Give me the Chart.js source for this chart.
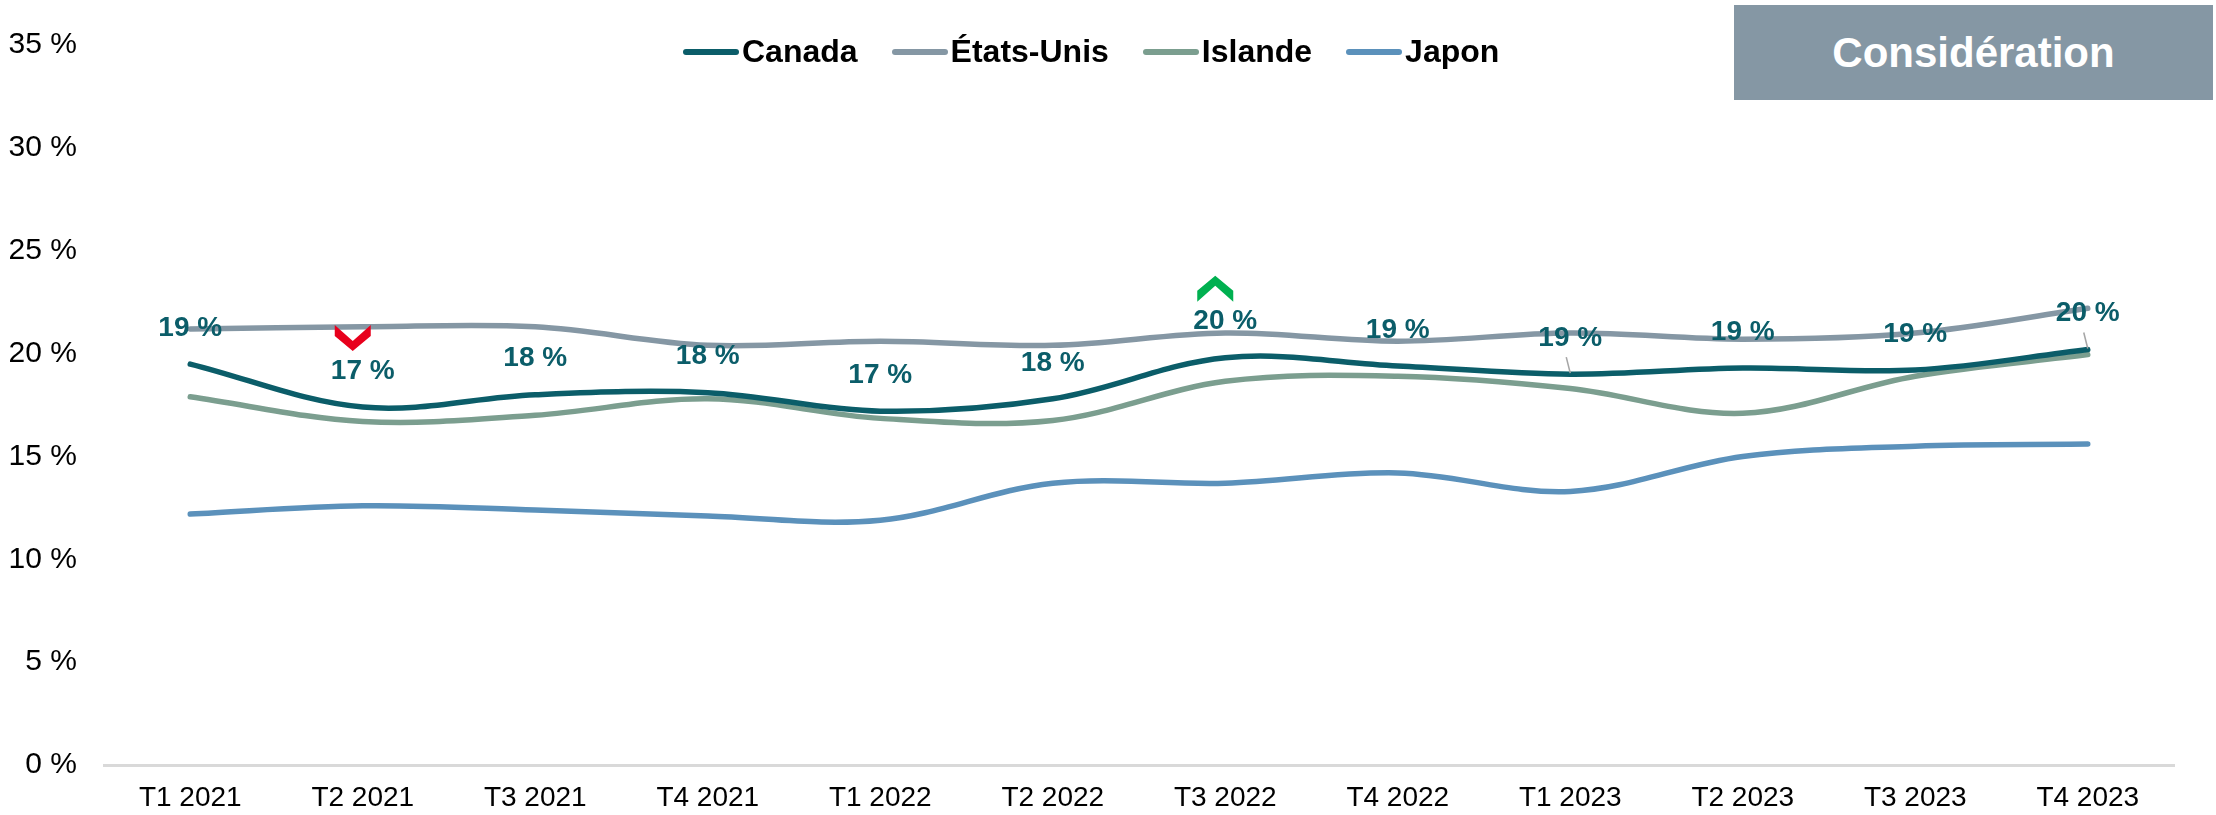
<!DOCTYPE html>
<html>
<head>
<meta charset="utf-8">
<script src="https://cdn.jsdelivr.net/npm/chart.js@4"></script>
<style>
  html, body { margin: 0; padding: 0; background: #fff; }
  #wrap { position: relative; width: 2216px; height: 815px; font-family: 'Liberation Sans', Arial, sans-serif; }
  #chart { position: absolute; left: 0; top: 0; }
  #legend { position: absolute; top: 33px; left: 683px; display: flex; align-items: center; font-weight: bold; font-size: 32px; color: #000; }
  #legend .item { display: flex; align-items: center; margin-right: 34px; }
  #legend .sw { width: 56px; height: 6px; border-radius: 3px; margin-right: 3px; }
  #badge { position: absolute; left: 1734px; top: 5px; width: 479px; height: 95px; background: #8597a4; color: #fff; font-weight: bold; font-size: 42px; display: flex; align-items: center; justify-content: center; }
</style>
</head>
<body>
<div id="wrap">
  <canvas id="chart"></canvas>
  <div id="legend"></div>
  <div id="badge">Considération</div>
</div>
<script>
const categories = ['T1 2021', 'T2 2021', 'T3 2021', 'T4 2021', 'T1 2022', 'T2 2022', 'T3 2022', 'T4 2022', 'T1 2023', 'T2 2023', 'T3 2023', 'T4 2023'];
const canada    = [19.49, 17.4, 18.0, 18.1, 17.2, 17.8, 19.8, 19.4, 19.0, 19.3, 19.2, 20.2];
const etatsUnis = [21.2, 21.3, 21.3, 20.4, 20.6, 20.4, 21.0, 20.6, 21.0, 20.7, 21.0, 22.2];
const islande   = [17.9, 16.7, 17.0, 17.8, 16.85, 16.75, 18.65, 18.9, 18.3, 17.1, 18.9, 19.95];
const japon     = [12.2, 12.6, 12.4, 12.1, 11.9, 13.7, 13.7, 14.2, 13.3, 15.0, 15.5, 15.6];
// significance flags on the Canada series
const signif = ['', 'down', '', '', '', '', 'up', '', '', '', '', ''];
const leaderIdx = [8, 11];

const seriesNames = ['Canada', 'États-Unis', 'Islande', 'Japon'];
const seriesColors = ['#0b5d69', '#8597a4', '#7b9e8f', '#5b91bb'];
const labelColor = '#0b5d69';
const FONT = "'Liberation Sans', Arial, sans-serif";

const canadaLabels = {
  id: 'canadaLabels',
  afterDatasetsDraw(chart) {
    const ctx = chart.ctx;
    const pts = chart.getDatasetMeta(0).data;
    ctx.save();
    ctx.strokeStyle = '#a6a6a6';
    ctx.lineWidth = 1.5;
    leaderIdx.forEach(i => {
      const p = pts[i];
      ctx.beginPath();
      ctx.moveTo(p.x - 4, p.y - 17);
      ctx.lineTo(p.x, p.y - 1);
      ctx.stroke();
    });
    ctx.font = 'bold 28px ' + FONT;
    ctx.textAlign = 'center';
    ctx.textBaseline = 'middle';
    pts.forEach((p, i) => {
      const ly = p.y - 36;
      ctx.fillStyle = labelColor;
      ctx.fillText(Math.round(canada[i]) + ' %', p.x, ly);
      const s = signif[i];
      if (!s) return;
      const cx = p.x - 10, cy = ly - 33;
      ctx.beginPath();
      if (s === 'down') {
        ctx.fillStyle = '#e8001c';
        ctx.moveTo(cx - 18, cy - 13);
        ctx.lineTo(cx, cy + 3);
        ctx.lineTo(cx + 18, cy - 13);
        ctx.lineTo(cx + 18, cy - 2);
        ctx.lineTo(cx, cy + 13);
        ctx.lineTo(cx - 18, cy - 2);
      } else {
        ctx.fillStyle = '#00b050';
        ctx.moveTo(cx - 18, cy + 13);
        ctx.lineTo(cx, cy - 3);
        ctx.lineTo(cx + 18, cy + 13);
        ctx.lineTo(cx + 18, cy + 2);
        ctx.lineTo(cx, cy - 13);
        ctx.lineTo(cx - 18, cy + 2);
      }
      ctx.closePath();
      ctx.fill();
    });
    ctx.restore();
  }
};

const allData = [canada, etatsUnis, islande, japon];

const legendEl = document.getElementById('legend');
seriesNames.forEach((n, i) => {
  const it = document.createElement('div');
  it.className = 'item';
  it.innerHTML = '<span class="sw" style="background:' + seriesColors[i] + '"></span><span>' + n + '</span>';
  legendEl.appendChild(it);
});

Chart.defaults.font.family = FONT;
Chart.defaults.color = '#000';

new Chart(document.getElementById('chart'), {
  type: 'line',
  data: {
    labels: categories,
    datasets: seriesNames.map((n, i) => ({
      label: n,
      data: allData[i],
      borderColor: seriesColors[i],
      backgroundColor: seriesColors[i],
      borderWidth: 5.5,
      borderCapStyle: 'round',
      pointRadius: 0,
      tension: 0.35,
      fill: false
    }))
  },
  options: {
    responsive: true,
    maintainAspectRatio: false,
    animation: false,
    layout: { padding: { top: 40, right: 42, left: 0, bottom: 0 } },
    plugins: { legend: { display: false }, tooltip: { enabled: false } },
    scales: {
      x: {
        offset: true,
        grid: { display: false, drawTicks: false },
        border: { display: true, color: '#d9d9d9', width: 3 },
        ticks: { padding: 16, font: { size: 28 }, maxRotation: 0, autoSkip: false },
        afterFit(s) { s.height = 50; }
      },
      y: {
        min: 0, max: 35,
        grid: { display: false, drawTicks: false },
        border: { display: false },
        ticks: { stepSize: 5, padding: 27, font: { size: 30 }, callback: v => v + ' %' },
        afterFit(s) { s.width = 104; }
      }
    }
  },
  plugins: [canadaLabels]
});
</script>
</body>
</html>
